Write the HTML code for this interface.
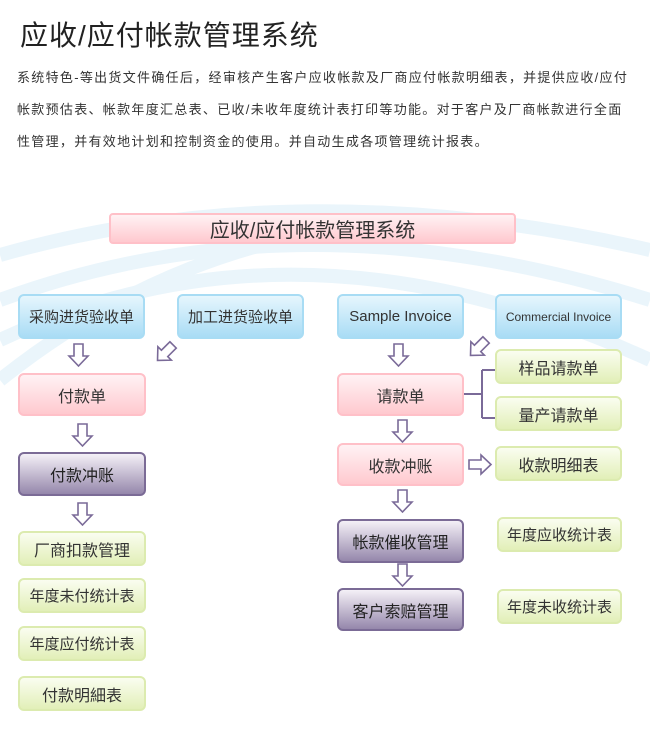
<!DOCTYPE html>
<html><head><meta charset="utf-8"><style>
body{margin:0;width:650px;height:741px;background:#fff;position:relative;overflow:hidden;font-family:"Liberation Sans","Noto Sans CJK SC",sans-serif;color:#333}
.t{position:absolute;left:20px;top:14px;font-size:28px;color:#222;letter-spacing:1px;white-space:nowrap}
.p{position:absolute;left:17px;font-size:13px;letter-spacing:1.3px;white-space:nowrap;color:#333}
.b{position:absolute;box-sizing:border-box;border-radius:6px;display:flex;align-items:center;justify-content:center;white-space:nowrap;color:#333;font-size:16px}
.bl{background:linear-gradient(#e6f6fd,#a9dcf5);border:2px solid #a8dcf4}
.pk{background:linear-gradient(#fff2f4,#ffc9cf);border:2px solid #ffc0c8}
.pu{background:linear-gradient(#f4f0f7,#9587ab);border:2px solid #7b6b96;color:#222}
.gr{background:linear-gradient(#fafdf0,#e2efb8);border:2px solid #dcebaf;font-size:15px}
</style></head><body>
<svg width="650" height="741" style="position:absolute;left:0;top:0">
<g fill="none" stroke="#eaf5fb" stroke-width="14">
<path d="M0,255 Q300,170 650,250"/>
<path d="M0,300 Q300,190 650,300"/>
<path d="M0,340 Q300,200 650,360"/>
<path d="M0,380 Q150,260 330,230"/>
</g>
<g fill="#fff" stroke="#7a6a98" stroke-width="1.6">
<polygon points="74,344 83,344 83,356 88,356 78.5,366 69,356 74,356"/>
<polygon points="78,424 87,424 87,436 92,436 82.5,446 73,436 78,436"/>
<polygon points="78,503 87,503 87,515 92,515 82.5,525 73,515 78,515"/>
<polygon points="394,344 403,344 403,356 408,356 398.5,366 389,356 394,356"/>
<polygon points="398,420 407,420 407,432 412,432 402.5,442 393,432 398,432"/>
<polygon points="398,490 407,490 407,502 412,502 402.5,512 393,502 398,502"/>
<polygon points="398,564 407,564 407,576 412,576 402.5,586 393,576 398,576"/>
<polygon points="469,460 481,460 481,455 491,464.5 481,474 481,469 469,469"/>
<g transform="translate(166,352) rotate(45)"><polygon points="-4.5,-10 4.5,-10 4.5,2 9.5,2 0,12 -9.5,2 -4.5,2"/></g>
<g transform="translate(479,347) rotate(45)"><polygon points="-4.5,-10 4.5,-10 4.5,2 9.5,2 0,12 -9.5,2 -4.5,2"/></g>
</g>
<path d="M463,394 H482 M482,370 V418 M482,370 H495 M482,418 H495" stroke="#7a6a98" stroke-width="2" fill="none"/>
</svg>
<div class="t">应收/应付帐款管理系统</div>
<div class="p" style="top:67px">系统特色-等出货文件确任后，经审核产生客户应收帐款及厂商应付帐款明细表，并提供应收/应付</div>
<div class="p" style="top:99px">帐款预估表、帐款年度汇总表、已收/未收年度统计表打印等功能。对于客户及厂商帐款进行全面</div>
<div class="p" style="top:131px">性管理，并有效地计划和控制资金的使用。并自动生成各项管理统计报表。</div>

<div class="b pk" style="left:109px;top:213px;width:407px;height:31px;font-size:20px;border-radius:4px">应收/应付帐款管理系统</div>

<div class="b bl" style="left:18px;top:294px;width:127px;height:45px;font-size:15px">采购进货验收单</div>
<div class="b bl" style="left:177px;top:294px;width:127px;height:45px;font-size:15px">加工进货验收单</div>
<div class="b pk" style="left:18px;top:373px;width:128px;height:43px">付款单</div>
<div class="b pu" style="left:18px;top:452px;width:128px;height:44px">付款冲账</div>
<div class="b gr" style="left:18px;top:531px;width:128px;height:35px;font-size:16px">厂商扣款管理</div>
<div class="b gr" style="left:18px;top:578px;width:128px;height:35px">年度未付统计表</div>
<div class="b gr" style="left:18px;top:626px;width:128px;height:35px">年度应付统计表</div>
<div class="b gr" style="left:18px;top:676px;width:128px;height:35px;font-size:16px">付款明細表</div>

<div class="b bl" style="left:337px;top:294px;width:127px;height:45px;font-size:15px">Sample Invoice</div>
<div class="b bl" style="left:495px;top:294px;width:127px;height:45px;font-size:12px">Commercial Invoice</div>
<div class="b pk" style="left:337px;top:373px;width:127px;height:43px">请款单</div>
<div class="b gr" style="left:495px;top:349px;width:127px;height:35px;font-size:16px">样品请款单</div>
<div class="b gr" style="left:495px;top:396px;width:127px;height:35px;font-size:16px">量产请款单</div>
<div class="b pk" style="left:337px;top:443px;width:127px;height:43px">收款冲账</div>
<div class="b gr" style="left:495px;top:446px;width:127px;height:35px;font-size:16px">收款明细表</div>
<div class="b pu" style="left:337px;top:519px;width:127px;height:44px">帐款催收管理</div>
<div class="b gr" style="left:497px;top:517px;width:125px;height:35px">年度应收统计表</div>
<div class="b pu" style="left:337px;top:588px;width:127px;height:43px">客户索赔管理</div>
<div class="b gr" style="left:497px;top:589px;width:125px;height:35px">年度未收统计表</div>
</body></html>
